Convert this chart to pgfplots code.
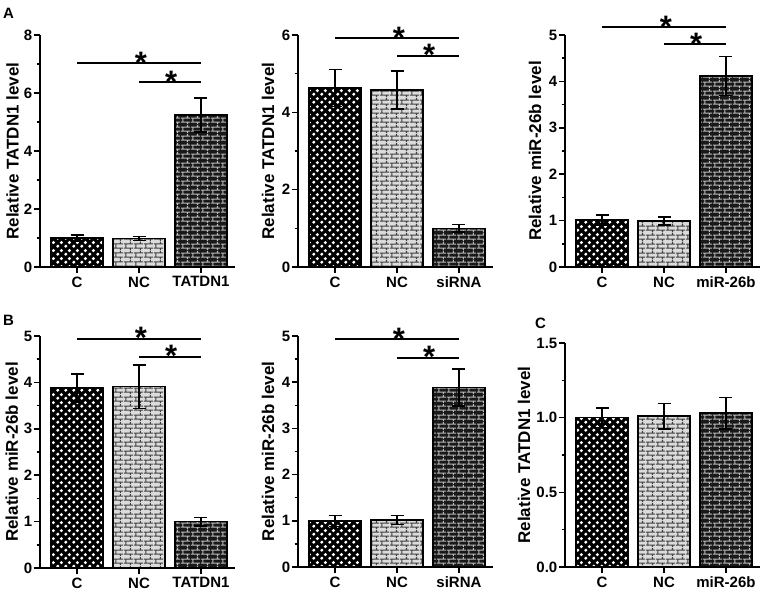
\documentclass[border=0pt]{standalone}
\usepackage{pgfplots}
\pgfplotsset{compat=1.18}
\usepackage{fontspec}
\setmainfont{Liberation Sans}
\usetikzlibrary{patterns}

\pgfdeclarepatternformonly{wdots}{\pgfpointorigin}{\pgfqpoint{8pt}{8pt}}{\pgfqpoint{8pt}{8pt}}{
  \pgfpathcircle{\pgfqpoint{2pt}{2pt}}{1.85pt}
  \pgfpathcircle{\pgfqpoint{6pt}{6pt}}{1.85pt}
  \pgfusepath{fill}}
\pgfdeclarepatternformonly{brk}{\pgfpointorigin}{\pgfqpoint{9.5pt}{9pt}}{\pgfqpoint{9.5pt}{9pt}}{
  \pgfsetlinewidth{1.1pt}
  \pgfpathmoveto{\pgfqpoint{0pt}{2pt}}\pgfpathlineto{\pgfqpoint{9.5pt}{2pt}}
  \pgfpathmoveto{\pgfqpoint{0pt}{6.5pt}}\pgfpathlineto{\pgfqpoint{9.5pt}{6.5pt}}
  \pgfpathmoveto{\pgfqpoint{2pt}{2pt}}\pgfpathlineto{\pgfqpoint{2pt}{6.5pt}}
  \pgfpathmoveto{\pgfqpoint{6.75pt}{6.5pt}}\pgfpathlineto{\pgfqpoint{6.75pt}{9pt}}
  \pgfpathmoveto{\pgfqpoint{6.75pt}{0pt}}\pgfpathlineto{\pgfqpoint{6.75pt}{2pt}}
  \pgfusepath{stroke}}

\pgfplotsset{
 panel/.style={scale only axis, width=195pt, xmin=-0.6, xmax=2.55, ymin=0,
   axis x line*=bottom, axis y line*=left,
   axis line style={line width=1.8pt, black},
   tick style={line width=1.5pt, black}, tick align=outside,
   major tick length=6pt, minor tick length=3.5pt,
   xtick={0,1,2}, minor y tick num=1, clip=false,
   /pgf/number format/assume math mode=true,
   tick label style={font=\bfseries\fontsize{15}{16}\selectfont},
   yticklabel style={inner sep=1.5pt},
   ylabel style={font=\bfseries\fontsize{17}{19}\selectfont,
     at={(axis description cs:#1,0.5)}, anchor=center}},
 fbase/.style={ybar, bar width=0.84, bar shift=0pt, draw=none},
 pbase/.style={ybar, bar width=0.84, bar shift=0pt, draw=black, line width=1.5pt,
   /pgfplots/error bars/y dir=both, /pgfplots/error bars/y explicit,
   /pgfplots/error bars/error bar style={line width=1.5pt, black},
   /pgfplots/error bars/error mark options={rotate=90, mark size=6.5pt, line width=1.5pt, black}},
 fillC/.style={fbase, fill=black},
 patC/.style={pbase, pattern=wdots, pattern color=white},
 fillN/.style={fbase, fill=gray!28},
 patN/.style={pbase, pattern=brk, pattern color=black!75},
 fillT/.style={fbase, fill=black!90},
 patT/.style={pbase, pattern=brk, pattern color=gray!55},
}
% #1 style key (C/N/T), #2 x position, #3 mean, #4 error
\newcommand{\pbar}[4]{%
  \addplot[fill#1] coordinates {(#2,#3)};
  \addplot[pat#1] coordinates {(#2,#3) +- (0,#4)};}
\tikzset{sig/.style={line width=2.4pt},
  st/.style={anchor=north, inner sep=0pt, yshift=11.5pt, font=\bfseries\fontsize{31}{31}\selectfont},
  plab/.style={anchor=north west, inner sep=0pt, font=\bfseries\fontsize{15}{15}\selectfont}}

\begin{document}
\begin{tikzpicture}
\path[use as bounding box] (0,0) rectangle (764pt,-592pt);
\node[plab] at (3pt,-8pt) {A};
\node[plab] at (3pt,-315pt) {B};
\node[plab] at (535pt,-318pt) {C};

% A1
\begin{axis}[panel=-0.141, at={(40pt,-267pt)}, anchor=south west, height=232pt,
  ymax=8, ytick={0,2,4,6,8}, xticklabels={C,NC,TATDN1}, ylabel={Relative TATDN1 level}]
\pbar{C}{0}{1.00}{0.11}
\pbar{N}{1}{0.99}{0.07}
\pbar{T}{2}{5.24}{0.58}
\draw[sig] (axis cs:0,7.03) -- (axis cs:2,7.03);
\draw[sig] (axis cs:1,6.38) -- (axis cs:2,6.38);
\node[st] at (axis cs:1.03,7.03) {*};
\node[st] at (axis cs:1.52,6.38) {*};
\end{axis}

% A2
\begin{axis}[panel=-0.154, at={(298pt,-267pt)}, anchor=south west, height=232pt,
  ymax=6, ytick={0,2,4,6}, xticklabels={C,NC,siRNA}, ylabel={Relative TATDN1 level}]
\pbar{C}{0}{4.63}{0.48}
\pbar{N}{1}{4.58}{0.49}
\pbar{T}{2}{1.00}{0.10}
\draw[sig] (axis cs:0,5.92) -- (axis cs:2,5.92);
\draw[sig] (axis cs:1,5.46) -- (axis cs:2,5.46);
\node[st] at (axis cs:1.03,5.92) {*};
\node[st] at (axis cs:1.52,5.46) {*};
\end{axis}

% A3
\begin{axis}[panel=-0.154, at={(565pt,-267pt)}, anchor=south west, height=232pt,
  ymax=5, ytick={0,1,2,3,4,5}, xticklabels={C,NC,miR-26b}, ylabel={Relative miR-26b level}]
\pbar{C}{0}{1.01}{0.11}
\pbar{N}{1}{0.99}{0.09}
\pbar{T}{2}{4.12}{0.42}
\draw[sig] (axis cs:0,5.17) -- (axis cs:2,5.17);
\draw[sig] (axis cs:1,4.80) -- (axis cs:2,4.80);
\node[st] at (axis cs:1.03,5.17) {*};
\node[st] at (axis cs:1.52,4.80) {*};
\end{axis}

% B1
\begin{axis}[panel=-0.144, at={(40pt,-568pt)}, anchor=south west, height=232pt,
  ymax=5, ytick={0,1,2,3,4,5}, xticklabels={C,NC,TATDN1}, ylabel={Relative miR-26b level}]
\pbar{C}{0}{3.88}{0.30}
\pbar{N}{1}{3.91}{0.47}
\pbar{T}{2}{1.00}{0.09}
\draw[sig] (axis cs:0,4.94) -- (axis cs:2,4.94);
\draw[sig] (axis cs:1,4.55) -- (axis cs:2,4.55);
\node[st] at (axis cs:1.03,4.94) {*};
\node[st] at (axis cs:1.52,4.55) {*};
\end{axis}

% B2
\begin{axis}[panel=-0.154, at={(298pt,-567pt)}, anchor=south west, height=231pt,
  ymax=5, ytick={0,1,2,3,4,5}, xticklabels={C,NC,siRNA}, ylabel={Relative miR-26b level}]
\pbar{C}{0}{1.00}{0.12}
\pbar{N}{1}{1.02}{0.10}
\pbar{T}{2}{3.89}{0.40}
\draw[sig] (axis cs:0,4.93) -- (axis cs:2,4.93);
\draw[sig] (axis cs:1,4.53) -- (axis cs:2,4.53);
\node[st] at (axis cs:1.03,4.93) {*};
\node[st] at (axis cs:1.52,4.53) {*};
\end{axis}

% C
\begin{axis}[panel=-0.21, at={(565pt,-567pt)}, anchor=south west, height=224pt,
  ymax=1.5, ytick={0,0.5,1,1.5}, yticklabels={0.0,0.5,1.0,1.5},
  xticklabels={C,NC,miR-26b}, ylabel={Relative TATDN1 level}]
\pbar{C}{0}{1.00}{0.065}
\pbar{N}{1}{1.01}{0.085}
\pbar{T}{2}{1.03}{0.105}
\end{axis}
\end{tikzpicture}
\end{document}
